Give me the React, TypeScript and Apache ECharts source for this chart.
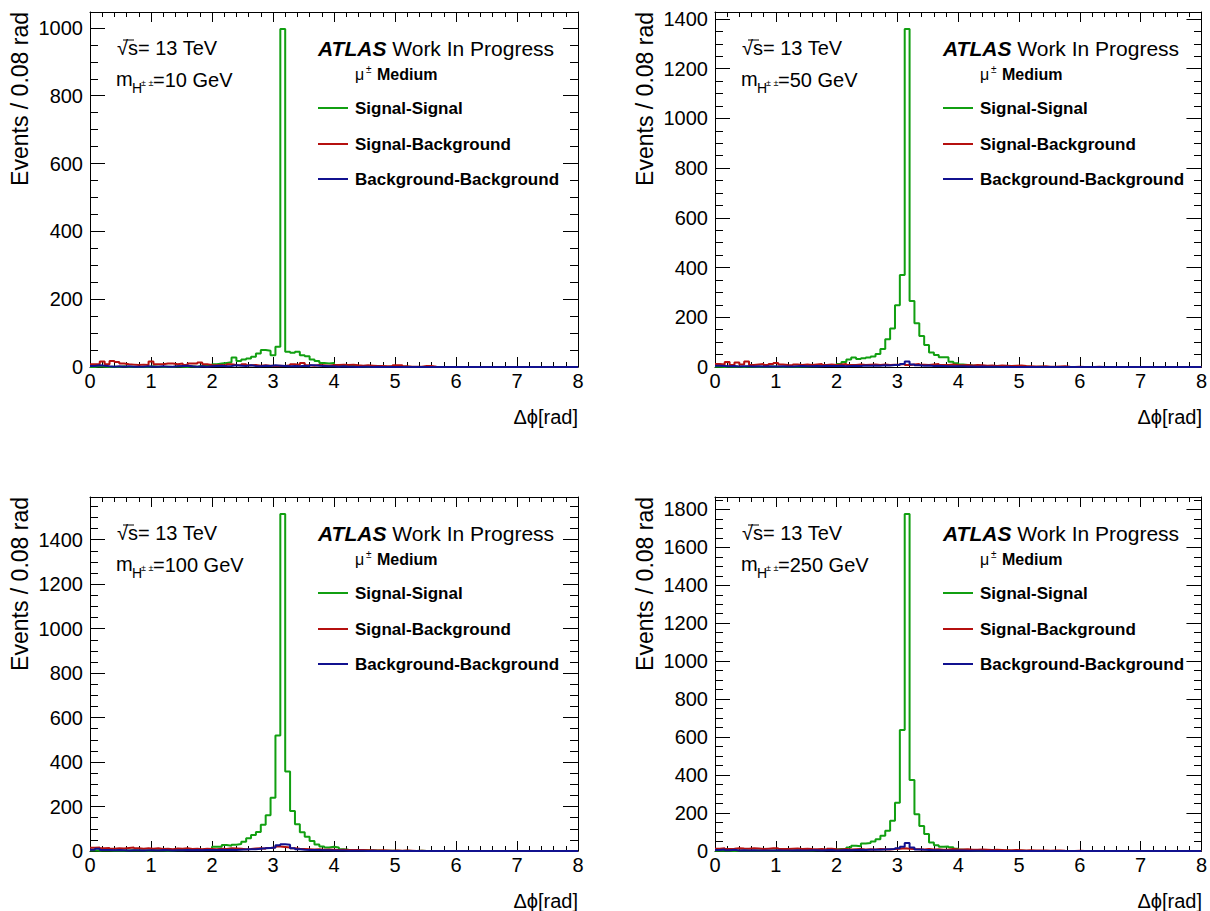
import React, { useEffect, useRef } from "react";
import * as echarts from "echarts";

// ---------------- data (Events per 0.08 rad bin, 100 bins from 0 to 8) ----------------
const N_BINS = 100;
const BIN_WIDTH = 0.08;
const X_TICKS = [0, 1, 2, 3, 4, 5, 6, 7, 8];
const MASS_LABELS = ["10", "50", "100", "250"];
const Y_MAX = [1047, 1428, 1592, 1865];
const SERIES_NAMES = ["Signal-Signal", "Signal-Background", "Background-Background"];

// m = 10 GeV
const sigSig10 = [
  0, 2, 1, 0, 1, 0, 2, 0, 1, 0, 1, 0, 2, 1, 0, 1, 0, 2, 1, 0,
  2, 1, 3, 4, 5, 8, 10, 12, 14, 28, 18, 22, 25, 30, 40, 50, 48, 35, 60, 997,
  45, 42, 45, 35, 32, 22, 18, 12, 10, 12, 5, 4, 3, 3, 2, 2, 1, 1, 2, 1,
  0, 1, 0, 0, 1, 0, 0, 0, 0, 0, 0, 0, 0, 0, 0, 0, 0, 0, 0, 0,
  0, 0, 0, 0, 0, 0, 0, 0, 0, 0, 0, 0, 0, 0, 0, 0, 0, 0, 0, 0,
];
const sigBkg10 = [
  8, 8, 16, 8, 18, 15, 10, 8, 7, 6, 7, 6, 16, 8, 8, 10, 10, 8, 10, 6,
  10, 10, 13, 8, 6, 5, 6, 5, 8, 6, 5, 8, 5, 6, 4, 5, 4, 3, 4, 3,
  5, 8, 6, 12, 5, 4, 6, 5, 4, 6, 6, 7, 6, 7, 5, 4, 5, 4, 3, 3,
  2, 2, 5, 5, 2, 1, 1, 1, 3, 3, 1, 0, 0, 0, 0, 0, 0, 0, 0, 0,
  0, 0, 0, 0, 0, 0, 0, 0, 0, 0, 0, 0, 0, 0, 0, 0, 0, 0, 0, 0,
];
const bkgBkg10 = [
  3, 5, 4, 2, 1, 2, 1, 2, 1, 1, 1, 2, 1, 1, 2, 1, 1, 2, 3, 4,
  2, 1, 2, 1, 2, 3, 4, 2, 3, 5, 4, 3, 5, 3, 2, 4, 3, 5, 4, 3,
  2, 3, 2, 4, 2, 5, 4, 3, 2, 2, 1, 2, 1, 1, 0, 1, 1, 0, 1, 0,
  0, 0, 0, 0, 0, 0, 0, 0, 0, 0, 0, 0, 0, 0, 0, 0, 0, 0, 0, 0,
  0, 0, 0, 0, 0, 0, 0, 0, 0, 0, 0, 0, 0, 0, 0, 0, 0, 0, 0, 0,
];

// m = 50 GeV
const sigSig50 = [
  1, 0, 2, 1, 1, 0, 2, 1, 0, 1, 1, 2, 1, 0, 2, 1, 1, 2, 2, 3,
  3, 4, 5, 6, 8, 12, 20, 30, 38, 32, 35, 38, 42, 52, 72, 112, 155, 248, 370, 1360,
  265, 176, 125, 88, 58, 48, 39, 39, 21, 15, 10, 8, 6, 5, 4, 3, 3, 2, 2, 1,
  1, 1, 0, 1, 0, 0, 1, 0, 0, 0, 0, 0, 0, 0, 0, 0, 0, 0, 0, 0,
  0, 0, 0, 0, 0, 0, 0, 0, 0, 0, 0, 0, 0, 0, 0, 0, 0, 0, 0, 0,
];
const sigBkg50 = [
  12, 10, 20, 8, 18, 10, 22, 8, 10, 12, 8, 12, 16, 10, 8, 7, 10, 8, 10, 8,
  10, 12, 8, 10, 8, 10, 12, 8, 8, 10, 8, 9, 10, 8, 10, 8, 9, 10, 12, 8,
  10, 12, 9, 8, 10, 12, 8, 8, 10, 8, 7, 8, 6, 8, 7, 5, 6, 4, 6, 5,
  4, 5, 6, 4, 3, 2, 2, 3, 1, 1, 2, 3, 1, 0, 1, 0, 0, 0, 1, 0,
  0, 0, 0, 0, 0, 0, 0, 0, 0, 0, 0, 0, 0, 0, 0, 0, 0, 0, 0, 0,
];
const bkgBkg50 = [
  5, 4, 3, 4, 2, 3, 3, 2, 3, 2, 3, 2, 2, 3, 2, 2, 3, 4, 3, 3,
  4, 3, 5, 4, 4, 5, 3, 4, 5, 4, 6, 5, 6, 5, 7, 6, 8, 8, 12, 22,
  10, 7, 5, 6, 4, 5, 4, 3, 3, 3, 3, 2, 2, 1, 2, 1, 1, 1, 0, 1,
  0, 0, 0, 0, 0, 0, 0, 0, 0, 0, 0, 0, 0, 0, 0, 0, 0, 0, 0, 0,
  0, 0, 0, 0, 0, 0, 0, 0, 0, 0, 0, 0, 0, 0, 0, 0, 0, 0, 0, 0,
];

// m = 100 GeV
const sigSig100 = [
  2, 1, 3, 2, 1, 2, 1, 2, 3, 2, 2, 1, 2, 3, 2, 1, 2, 3, 3, 4,
  4, 5, 6, 8, 10, 19, 19, 27, 24, 28, 31, 42, 57, 72, 86, 118, 161, 240, 519, 1516,
  358, 180, 120, 84, 64, 45, 29, 20, 16, 19, 16, 8, 6, 5, 4, 3, 3, 2, 2, 1,
  1, 1, 1, 0, 1, 0, 0, 1, 0, 0, 0, 0, 0, 0, 0, 0, 0, 0, 0, 0,
  0, 0, 0, 0, 0, 0, 0, 0, 0, 0, 0, 0, 0, 0, 0, 0, 0, 0, 0, 0,
];
const sigBkg100 = [
  15, 16, 12, 14, 10, 12, 11, 14, 16, 12, 10, 12, 10, 12, 9, 10, 8, 11, 10, 12,
  9, 10, 8, 10, 9, 8, 10, 9, 12, 11, 10, 8, 9, 11, 12, 10, 14, 16, 20, 18,
  16, 12, 10, 9, 8, 7, 8, 6, 7, 6, 5, 6, 5, 4, 5, 4, 3, 3, 2, 3,
  2, 1, 2, 1, 2, 1, 0, 1, 0, 0, 0, 0, 0, 0, 0, 0, 0, 0, 0, 0,
  0, 0, 0, 0, 0, 0, 0, 0, 0, 0, 0, 0, 0, 0, 0, 0, 0, 0, 0, 0,
];
const bkgBkg100 = [
  6, 10, 5, 4, 3, 4, 3, 2, 3, 3, 2, 3, 3, 2, 4, 3, 2, 3, 3, 4,
  3, 4, 3, 5, 4, 4, 6, 5, 6, 5, 6, 7, 8, 8, 10, 12, 14, 16, 26, 30,
  28, 12, 8, 6, 5, 4, 4, 3, 3, 2, 2, 2, 1, 1, 1, 1, 0, 1, 0, 0,
  0, 0, 0, 0, 0, 0, 0, 0, 0, 0, 0, 0, 0, 0, 0, 0, 0, 0, 0, 0,
  0, 0, 0, 0, 0, 0, 0, 0, 0, 0, 0, 0, 0, 0, 0, 0, 0, 0, 0, 0,
];

// m = 250 GeV
const sigSig250 = [
  1, 2, 1, 0, 1, 2, 1, 1, 2, 1, 1, 2, 1, 2, 1, 2, 3, 2, 3, 3,
  4, 4, 5, 6, 8, 10, 12, 18, 28, 25, 40, 42, 50, 62, 80, 107, 160, 254, 637, 1776,
  374, 194, 132, 90, 45, 30, 22, 24, 20, 12, 6, 5, 4, 3, 3, 2, 2, 1, 1, 1,
  0, 0, 1, 0, 0, 0, 0, 0, 0, 0, 0, 0, 0, 0, 0, 0, 0, 0, 0, 0,
  0, 0, 0, 0, 0, 0, 0, 0, 0, 0, 0, 0, 0, 0, 0, 0, 0, 0, 0, 0,
];
const sigBkg250 = [
  12, 14, 10, 12, 15, 13, 12, 14, 13, 10, 12, 14, 15, 11, 10, 12, 13, 11, 12, 10,
  9, 10, 8, 12, 9, 8, 10, 8, 9, 10, 8, 9, 8, 10, 9, 8, 10, 12, 14, 12,
  10, 9, 8, 10, 8, 9, 7, 8, 10, 8, 8, 9, 7, 6, 8, 7, 5, 6, 5, 4,
  4, 5, 4, 3, 4, 3, 2, 2, 1, 2, 3, 1, 0, 0, 1, 0, 0, 0, 0, 0,
  0, 0, 0, 0, 0, 0, 0, 0, 0, 0, 0, 0, 0, 0, 0, 0, 0, 0, 0, 0,
];
const bkgBkg250 = [
  5, 8, 4, 6, 3, 4, 3, 4, 3, 2, 3, 2, 4, 3, 3, 2, 4, 3, 3, 4,
  4, 3, 4, 5, 3, 4, 5, 4, 5, 6, 5, 6, 7, 6, 8, 9, 10, 14, 22, 42,
  18, 8, 6, 5, 4, 4, 3, 3, 2, 2, 2, 1, 1, 1, 1, 0, 1, 0, 0, 0,
  0, 0, 0, 0, 0, 0, 0, 0, 0, 0, 0, 0, 0, 0, 0, 0, 0, 0, 0, 0,
  0, 0, 0, 0, 0, 0, 0, 0, 0, 0, 0, 0, 0, 0, 0, 0, 0, 0, 0, 0,
];

const PANELS = [
  [sigSig10, sigBkg10, bkgBkg10],
  [sigSig50, sigBkg50, bkgBkg50],
  [sigSig100, sigBkg100, bkgBkg100],
  [sigSig250, sigBkg250, bkgBkg250],
];

// ---------------- styling ----------------
const COLORS = ["#119f11", "#b5100f", "#11118f"];
const FONT = "'Liberation Sans', Arial, Helvetica, sans-serif";
const GRIDS = [
  { left: 90, top: 12, width: 488, height: 355 },
  { left: 715, top: 12, width: 487, height: 355 },
  { left: 90, top: 497, width: 488, height: 354 },
  { left: 715, top: 497, width: 487, height: 354 },
];

const edges = Array.from({ length: N_BINS + 1 }, (_, i) => +(i * BIN_WIDTH).toFixed(2));
const histData = (vals: number[]) =>
  vals.map((v, i) => [edges[i], v]).concat([[edges[N_BINS], vals[vals.length - 1]]]);

function buildOption() {
  const grid: any[] = [];
  const xAxis: any[] = [];
  const yAxis: any[] = [];
  const series: any[] = [];
  const graphic: any[] = [];

  const axisLine = { show: true, onZero: false, lineStyle: { color: "#000", width: 1 } };
  const tickStyle = { color: "#000", width: 1 };

  // main grids 0..3
  GRIDS.forEach((g, gi) => {
    grid.push({ left: g.left, top: g.top, width: g.width, height: g.height });
  });
  // overlay grids 4..7 carrying the y minor ticks
  GRIDS.forEach((g) => {
    grid.push({ left: g.left, top: g.top, width: g.width, height: g.height });
  });

  GRIDS.forEach((g, gi) => {
    const xBase = {
      gridIndex: gi,
      type: "value",
      min: X_TICKS[0],
      max: X_TICKS[X_TICKS.length - 1],
      interval: 1,
      axisLine,
      axisTick: { show: true, inside: true, length: 10, lineStyle: tickStyle },
      minorTick: { show: true, splitNumber: 5, length: 5, lineStyle: tickStyle },
      splitLine: { show: false },
      minorSplitLine: { show: false },
    };
    // xAxis index gi*2 (bottom), gi*2+1 (top)
    xAxis.push({
      ...xBase,
      position: "bottom",
      axisLabel: { show: true, fontSize: 20, color: "#000", fontFamily: FONT, margin: 4 },
    });
    xAxis.push({ ...xBase, position: "top", axisLabel: { show: false } });

    const yBase = {
      gridIndex: gi,
      type: "value",
      min: 0,
      max: Y_MAX[gi],
      interval: 200,
      splitLine: { show: false },
      axisLine,
      axisTick: { show: true, inside: true, length: 15, lineStyle: tickStyle },
    };
    // yAxis index gi*2 (left), gi*2+1 (right)
    yAxis.push({
      ...yBase,
      position: "left",
      axisLabel: {
        show: true,
        fontSize: 20,
        color: "#000",
        fontFamily: FONT,
        margin: 7,
        formatter: (v: number) => (v % 200 === 0 ? String(v) : ""),
      },
    });
    yAxis.push({ ...yBase, position: "right", axisLabel: { show: false } });

    PANELS[gi].forEach((vals, si) => {
      series.push({
        name: SERIES_NAMES[si],
        type: "line",
        step: "end",
        xAxisIndex: gi * 2,
        yAxisIndex: gi * 2,
        data: histData(vals),
        showSymbol: false,
        symbol: "none",
        lineStyle: { color: COLORS[si], width: 2 },
        itemStyle: { color: COLORS[si] },
        z: 2 + si,
        clip: true,
      });
    });

    const L = g.left;
    const T = g.top;
    const txt = (x: number, y: number, text: string, size: number, extra: any = {}) => ({
      type: "text",
      x,
      y,
      z: 100,
      style: {
        text,
        fontSize: size,
        fontFamily: FONT,
        fill: "#000",
        align: "left",
        verticalAlign: "middle",
        ...extra,
      },
    });
    // sqrt(s)
    graphic.push(txt(L + 27, T + 36, "√s= 13 TeV", 20));
    graphic.push({
      type: "line",
      z: 100,
      shape: { x1: L + 33, y1: T + 28, x2: L + 44, y2: T + 28 },
      style: { stroke: "#000", lineWidth: 1 },
    });
    // mass
    graphic.push(txt(L + 26, T + 67, "m", 20));
    graphic.push(txt(L + 42, T + 76, "H", 14));
    graphic.push(txt(L + 51, T + 71, "± ±", 9));
    graphic.push(txt(L + 63, T + 68, "=" + MASS_LABELS[gi] + " GeV", 20));
    // ATLAS label
    graphic.push(
      txt(L + 228, T + 36, "{b|ATLAS} Work In Progress", 21, {
        rich: { b: { fontSize: 21, fontFamily: FONT, fontWeight: "bold", fontStyle: "italic", fill: "#000" } },
      })
    );
    graphic.push(txt(L + 265, T + 62, "μ", 16));
    graphic.push(txt(L + 276, T + 57, "±", 10));
    graphic.push(txt(L + 287, T + 62, "Medium", 16, { fontWeight: "bold" }));
    // legend
    [96, 132, 167].forEach((dy, si) => {
      graphic.push({
        type: "line",
        z: 100,
        shape: { x1: L + 228, y1: T + dy, x2: L + 258, y2: T + dy },
        style: { stroke: COLORS[si], lineWidth: 2 },
      });
      graphic.push(txt(L + 265, T + dy, SERIES_NAMES[si], 17, { fontWeight: "bold" }));
    });
    // axis titles
    graphic.push({
      type: "text",
      x: L - 70,
      y: T,
      rotation: Math.PI / 2,
      z: 100,
      style: {
        text: "Events / 0.08 rad",
        fontSize: 23,
        fontFamily: FONT,
        fill: "#000",
        align: "right",
        verticalAlign: "middle",
      },
    });
    graphic.push(txt(L + g.width, T + g.height + 50, "Δϕ[rad]", 20, { align: "right" }));
  });

  // overlay grids: hidden x axes (index 8..11) and minor-tick y axes (index 8..15)
  GRIDS.forEach((g, gi) => {
    xAxis.push({
      gridIndex: 4 + gi,
      type: "value",
      min: X_TICKS[0],
      max: X_TICKS[X_TICKS.length - 1],
      show: false,
    });
    const yMinor = {
      gridIndex: 4 + gi,
      type: "value",
      min: 0,
      max: Y_MAX[gi],
      interval: 50,
      splitLine: { show: false },
      axisLine: { show: false, onZero: false },
      axisLabel: { show: false },
      axisTick: { show: true, inside: true, length: 8, lineStyle: tickStyle },
    };
    yAxis.push({ ...yMinor, position: "left" });
    yAxis.push({ ...yMinor, position: "right" });
  });

  return {
    animation: false,
    backgroundColor: "#fff",
    grid,
    xAxis,
    yAxis,
    series,
    graphic,
  };
}

export default function App() {
  const ref = useRef<HTMLDivElement>(null);
  useEffect(() => {
    if (!ref.current) return;
    const chart = echarts.init(ref.current, null, { renderer: "svg" });
    chart.setOption(buildOption() as any);
    return () => chart.dispose();
  }, []);
  return (
    <div
      ref={ref}
      style={{ position: "absolute", left: 0, top: 0, width: 1210, height: 911, background: "#fff" }}
    />
  );
}
